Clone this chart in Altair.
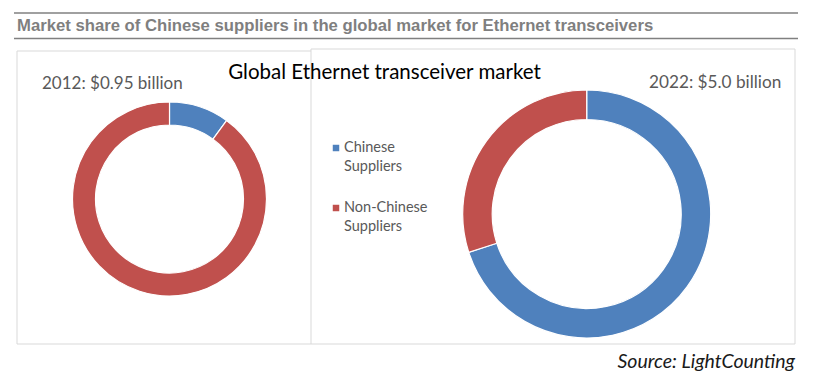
import altair as alt
import pandas as pd

# ---- data ----
segments = ["Chinese Suppliers", "Non-Chinese Suppliers"]
seg_line1 = ["Chinese", "Non-Chinese"]
seg_line2 = ["Suppliers", "Suppliers"]
share_2012 = [10, 90]
share_2022 = [70, 30]
label_2012 = "2012: $0.95 billion"
label_2022 = "2022: $5.0 billion"
colors = ["#4F81BD", "#C0504D"]

title_text = "Market share of Chinese suppliers in the global market for Ethernet transceivers"
chart_title = "Global Ethernet transceiver market"
source_text = "Source: LightCounting"

df12 = pd.DataFrame({"segment": segments, "share": share_2012, "idx": [0, 1]})
df22 = pd.DataFrame({"segment": segments, "share": share_2022, "idx": [0, 1]})
leg = pd.DataFrame({"segment": segments, "l1": seg_line1, "l2": seg_line2})

color_scale = alt.Scale(domain=segments, range=colors)
BODY = "Lato"
dummy = pd.DataFrame({"a": [0]})

def rule(x, x2, y, y2, color, width):
    return alt.Chart(dummy).mark_rule(color=color, strokeWidth=width).encode(
        x=alt.value(x), x2=alt.value(x2), y=alt.value(y), y2=alt.value(y2))

def text(t, x, y, size, color, font, align="left", baseline="alphabetic", weight="normal", style="normal"):
    return alt.Chart(dummy).mark_text(
        text=t, align=align, baseline=baseline, fontSize=size, color=color,
        font=font, fontWeight=weight, fontStyle=style
    ).encode(x=alt.value(x), y=alt.value(y))

# title bar
top_line = rule(14, 798, 13, 13, "#808080", 1.6)
bot_line = rule(14, 798, 38.5, 38.5, "#808080", 1.6)
title = text(title_text, 17, 31.3, 16.7, "#7F7F7F", "Liberation Sans", weight="bold")

# boxes
box_col = "#D9D9D9"
boxes = alt.layer(
    rule(17, 311, 51, 51, box_col, 1),
    rule(311, 795, 49, 49, box_col, 1),
    rule(17, 17, 51, 344, box_col, 1),
    rule(311, 311, 49, 344, box_col, 1),
    rule(795, 795, 49, 344, box_col, 1),
    rule(17, 795, 344, 344, box_col, 1),
)

def donut(df, cx, cy, r_out, r_in):
    return alt.Chart(df).mark_arc(
        outerRadius=r_out, innerRadius=r_in, stroke="white", strokeWidth=1.2
    ).encode(
        theta=alt.Theta("share:Q", stack=True),
        color=alt.Color("segment:N", scale=color_scale, legend=None),
        order=alt.Order("idx:Q"),
        x=alt.value(cx), y=alt.value(cy),
    )

d12 = donut(df12, 169.5, 199, 97, 74)
d22 = donut(df22, 586.7, 214, 124, 94.5)

t12 = text(label_2012, 42, 89, 17, "#595959", BODY)
t22 = text(label_2022, 649, 88, 17.2, "#595959", BODY)
tmain = text(chart_title, 384.5, 79, 20.5, "#000000", BODY, align="center")

# legend
yscale = alt.Scale(type="point", domain=segments, range=[148, 208], padding=0)
leg_sq = alt.Chart(leg).mark_square(size=42, opacity=1).encode(
    x=alt.value(336),
    y=alt.Y("segment:N", scale=yscale, axis=None),
    color=alt.Color("segment:N", scale=color_scale, legend=None),
)
leg_t1 = alt.Chart(leg).mark_text(align="left", baseline="middle", fontSize=14.5, font=BODY, color="#595959").encode(
    x=alt.value(344), y=alt.Y("segment:N", scale=yscale, axis=None), text="l1:N")
leg_t2 = alt.Chart(leg).mark_text(align="left", baseline="middle", fontSize=14.5, font=BODY, color="#595959", dy=19).encode(
    x=alt.value(344), y=alt.Y("segment:N", scale=yscale, axis=None), text="l2:N")

src = text(source_text, 795, 368, 19.5, "#1A1A1A", BODY, align="right", style="italic")

chart = alt.layer(
    top_line, bot_line, title, boxes, d12, d22, t12, t22, tmain, leg_sq, leg_t1, leg_t2, src
).properties(
    width=814, height=381, padding=0, autosize="none", background="white"
).configure_view(stroke=None)

chart.save("out.html", embed_options={"renderer": "svg", "actions": False})
